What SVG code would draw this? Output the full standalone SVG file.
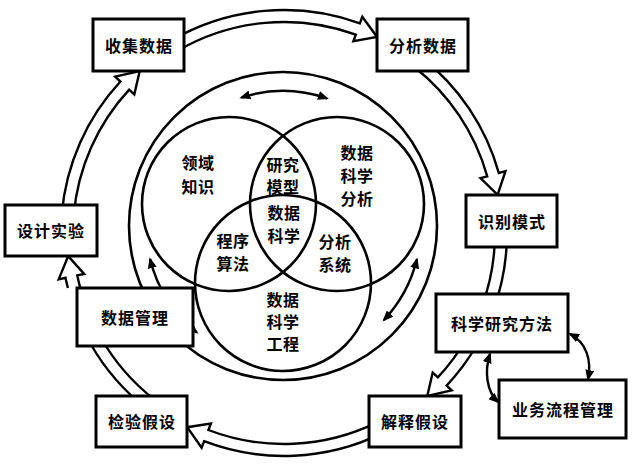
<svg xmlns="http://www.w3.org/2000/svg" width="634" height="466" viewBox="0 0 634 466">
<style>
.bg{fill:#fff}
.box{fill:#fff;stroke:#000;stroke-width:3}
.circ{fill:none;stroke:#000;stroke-width:2.6}
.band{fill:#fff;stroke:#000;stroke-width:2.4;stroke-linejoin:miter}
.bandline{fill:none;stroke:#000;stroke-width:2.4}
.thin{fill:none;stroke:#000;stroke-width:2.4;marker-start:url(#ah);marker-end:url(#ah)}
.bt{font-family:"Noto Sans CJK SC","Noto Sans",sans-serif;font-size:16px;font-weight:700;fill:#000;text-anchor:middle;dominant-baseline:central;letter-spacing:1px}
.vt{font-family:"Noto Sans CJK SC","Noto Sans",sans-serif;font-size:16px;font-weight:700;fill:#000;text-anchor:middle;dominant-baseline:central;letter-spacing:0.5px}
</style>
<defs>
<marker id="ah" viewBox="0 0 11 9" markerUnits="userSpaceOnUse" markerWidth="11" markerHeight="9" refX="9" refY="4.5" orient="auto-start-reverse">
<path d="M0,0 L11,4.5 L0,9 Z" fill="#000"/>
</marker>
</defs>
<rect class="bg" x="0" y="0" width="634" height="466"/>

<g id="venn">
<circle class="circ" cx="283" cy="226" r="154"/>
<circle class="circ" cx="229" cy="204" r="87"/>
<circle class="circ" cx="337" cy="204" r="87"/>
<circle class="circ" cx="283" cy="283" r="88"/>
<g id="venn-labels">
<text class="vt" x="198" y="162">领域</text>
<text class="vt" x="198" y="186">知识</text>
<text class="vt" x="283" y="164">研究</text>
<text class="vt" x="283" y="186">模型</text>
<text class="vt" x="284" y="212">数据</text>
<text class="vt" x="284" y="235">科学</text>
<text class="vt" x="357" y="152">数据</text>
<text class="vt" x="357" y="175">科学</text>
<text class="vt" x="357" y="198">分析</text>
<text class="vt" x="233" y="240">程序</text>
<text class="vt" x="233" y="263">算法</text>
<text class="vt" x="335" y="241">分析</text>
<text class="vt" x="335" y="264">系统</text>
<text class="vt" x="283" y="299">数据</text>
<text class="vt" x="283" y="321">科学</text>
<text class="vt" x="283" y="343">工程</text>
</g>
</g>

<g id="connectors">
<!-- 收集数据 -> 分析数据 -->
<path class="band" d="M172.5,39.9 A223,223 0 0 1 359.9,23.3 L362.3,16.7 L377.1,37 L353.4,41.2 L355.8,34.6 A211,211 0 0 0 178.5,50.3"/>
<!-- 分析数据 -> 识别模式 -->
<path class="band" d="M421.3,57.3 A223,223 0 0 1 498.8,173 L505.5,171.2 L497.6,194.9 L480.5,178.1 L487.2,176.3 A211,211 0 0 0 413.9,66.7"/>
<!-- 识别模式 -> 科学研究方法 -->
<path class="bandline" d="M507,233 A223,223 0 0 1 493.6,309.3 M495,233 A211,211 0 0 1 482.3,305.2"/>
<!-- 科学研究方法 -> 解释假设 -->
<path class="band" d="M477.1,344.5 A223,223 0 0 1 446.6,385.6 L451.7,390.4 L427.3,395.9 L432.7,372.6 L437.8,377.4 A211,211 0 0 0 466.7,338.5"/>
<!-- 解释假设 -> 检验假设 -->
<path class="band" d="M381.8,433.4 A223,223 0 0 1 204.1,441.2 L201.6,447.7 L187.2,427.2 L210.9,423.5 L208.4,430 A211,211 0 0 0 376.5,422.6"/>
<!-- 检验假设 -> 数据管理 -->
<path class="bandline" d="M146.7,408.7 A223,223 0 0 1 90.9,344.5 M154.1,399.3 A211,211 0 0 1 101.3,338.5"/>
<!-- 数据管理 -> 设计实验 -->
<path class="band" d="M67.9,288 A223,223 0 0 1 65.5,277.8 L58.7,279.3 L68.2,256.1 L84.2,274 L77.3,275.4 A211,211 0 0 0 80.3,288"/>
<!-- 设计实验 -> 收集数据 -->
<path class="band" d="M61.8,213.6 A223,223 0 0 1 120.4,81.5 L115.2,76.7 L139.7,71 L134.3,94.4 L129.2,89.6 A211,211 0 0 0 73.8,214.6"/>
<!-- inner double-headed arrows -->
<path class="thin" d="M241.3,97.6 A135,135 0 0 1 327,98.4"/>
<path class="thin" d="M416.9,259.4 A138,138 0 0 1 383.9,320.1"/>
<path class="thin" d="M196.8,332.5 A137,137 0 0 1 150.1,259.1"/>
<!-- 科学研究方法 <-> 业务流程管理 -->
<path class="thin" d="M570,334 C586,342 592,360 588,379"/>
<path class="thin" d="M490,354 C484,372 487,392 498,402"/>
</g>

<g id="n-collect"><rect class="box" x="93" y="19" width="91" height="52"/><text class="bt" x="139" y="45">收集数据</text></g>
<g id="n-analyze"><rect class="box" x="377" y="19" width="91" height="52"/><text class="bt" x="423" y="45">分析数据</text></g>
<g id="n-pattern"><rect class="box" x="466" y="195" width="91" height="52"/><text class="bt" x="512" y="221">识别模式</text></g>
<g id="n-method"><rect class="box" x="436" y="294" width="132" height="58"/><text class="bt" x="502" y="323">科学研究方法</text></g>
<g id="n-business"><rect class="box" x="499" y="380" width="127" height="58"/><text class="bt" x="563" y="409">业务流程管理</text></g>
<g id="n-explain"><rect class="box" x="369" y="396" width="92" height="51"/><text class="bt" x="415" y="421">解释假设</text></g>
<g id="n-test"><rect class="box" x="96" y="396" width="91" height="51"/><text class="bt" x="142" y="421">检验假设</text></g>
<g id="n-datamgmt"><rect class="box" x="77" y="288" width="116" height="58"/><text class="bt" x="135" y="317">数据管理</text></g>
<g id="n-design"><rect class="box" x="5" y="205" width="92" height="51"/><text class="bt" x="51" y="230">设计实验</text></g>
</svg>
